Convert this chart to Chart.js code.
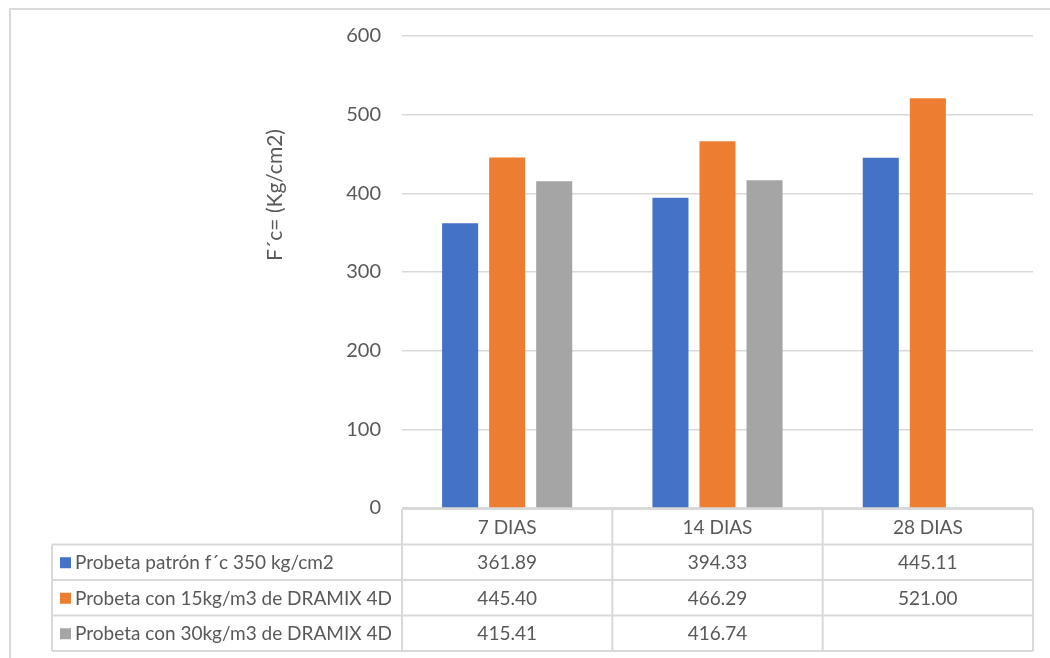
<!DOCTYPE html>
<html lang="es">
<head>
<meta charset="utf-8">
<title>Resistencia a la compresión</title>
<script src="https://cdn.jsdelivr.net/npm/chart.js@4.4.1/dist/chart.umd.min.js"></script>
<style>
  html, body { margin: 0; padding: 0; background: #fff; }
  #marco { width: 1050px; height: 658px; }
</style>
</head>
<body>
<div id="marco"><canvas id="grafico" width="1050" height="658"></canvas></div>
<script>
/* Gráfico de barras de f'c por edad de ensayo, con la tabla de datos debajo
   (como en Excel). La tabla se dibuja con un plugin usando la escala X. */

"use strict"

// Datos del gráfico
const categorias = ['7 DIAS', '14 DIAS', '28 DIAS'];
const nombresSeries = [
    'Probeta patrón f´c 350 kg/cm2',
    'Probeta con 15kg/m3 de DRAMIX 4D',
    'Probeta con 30kg/m3 de DRAMIX 4D'
];
const patron = [361.89, 394.33, 445.11];
const dramix15 = [445.40, 466.29, 521.00];
const dramix30 = [415.41, 416.74, null];
const tituloEjeY = 'F´c= (Kg/cm2)';
const ejeYMin = 0;
const ejeYMax = 600;
const ejeYPaso = 100;

const colores = ['#4472C4', '#ED7D31', '#A5A5A5'];
const fuente = 'Lato, "Open Sans", sans-serif';
const textoGris = '#595959';
const lineaGris = '#d9d9d9';

// Plugin: marco exterior, título vertical y tabla de datos
const tablaDatos = {
    id: 'tablaDatos',
    afterDraw(chart) {
        const ctx = chart.ctx;
        const area = chart.chartArea;
        const x = chart.scales.x;
        const series = [patron, dramix15, dramix30];
        const ancho = (area.right - area.left) / categorias.length;
        const arriba = area.bottom + 1;
        const altoFila = 35.5;
        const izq = 52;
        const abajo = arriba + altoFila * 4;

        ctx.save();

        // marco exterior (solo izquierda y arriba son visibles)
        ctx.strokeStyle = lineaGris;
        ctx.lineWidth = 2;
        ctx.beginPath();
        ctx.moveTo(10, chart.height);
        ctx.lineTo(10, 9);
        ctx.lineTo(chart.width, 9);
        ctx.stroke();

        // título del eje Y
        ctx.fillStyle = textoGris;
        ctx.font = '21px ' + fuente;
        ctx.textAlign = 'center';
        ctx.textBaseline = 'middle';
        ctx.translate(275, 195);
        ctx.rotate(-Math.PI / 2);
        ctx.fillText(tituloEjeY, 0, 0);
        ctx.setTransform(1, 0, 0, 1, 0, 0);

        // líneas de la tabla
        ctx.strokeStyle = lineaGris;
        ctx.lineWidth = 2;
        ctx.beginPath();
        ctx.moveTo(area.left, arriba);
        ctx.lineTo(area.right, arriba);
        for (let f = 1; f <= 4; f++) {
            ctx.moveTo(izq, arriba + altoFila * f);
            ctx.lineTo(area.right, arriba + altoFila * f);
        }
        ctx.moveTo(izq, arriba + altoFila);
        ctx.lineTo(izq, abajo);
        for (let i = 0; i <= categorias.length; i++) {
            const bx = x.getPixelForValue(0) - ancho / 2 + ancho * i;
            ctx.moveTo(bx, arriba);
            ctx.lineTo(bx, abajo);
        }
        ctx.stroke();

        // encabezado con las categorías
        ctx.fillStyle = textoGris;
        ctx.font = '19px ' + fuente;
        ctx.textAlign = 'center';
        ctx.textBaseline = 'middle';
        categorias.forEach((cat, i) => {
            ctx.fillText(cat, x.getPixelForValue(i), arriba + altoFila / 2 + 1);
        });

        // filas con la clave de color, el nombre y los valores
        series.forEach((valores, s) => {
            const cy = arriba + altoFila * (s + 1) + altoFila / 2 + 1;
            ctx.fillStyle = colores[s];
            ctx.fillRect(60, cy - 6, 11, 11);
            ctx.fillStyle = textoGris;
            ctx.textAlign = 'left';
            ctx.fillText(nombresSeries[s], 75, cy);
            ctx.textAlign = 'center';
            valores.forEach((v, i) => {
                if (v !== null) {
                    ctx.fillText(v.toFixed(2), x.getPixelForValue(i), cy);
                }
            });
        });

        ctx.restore();
    }
};

function armarGrafico() {
    const datos = [patron, dramix15, dramix30];

    new Chart(document.getElementById('grafico'), {
        type: 'bar',
        data: {
            labels: categorias,
            datasets: datos.map((valores, s) => ({
                label: nombresSeries[s],
                data: valores,
                backgroundColor: colores[s],
                borderWidth: 0,
                categoryPercentage: 0.671,
                barPercentage: 0.766
            }))
        },
        options: {
            responsive: false,
            animation: false,
            layout: {
                padding: { top: 36, right: 17, bottom: 150, left: 0 }
            },
            plugins: {
                legend: { display: false },
                tooltip: { enabled: false }
            },
            scales: {
                x: { display: false },
                y: {
                    min: ejeYMin,
                    max: ejeYMax,
                    ticks: {
                        stepSize: ejeYPaso,
                        color: textoGris,
                        padding: 21,
                        font: { family: fuente, size: 20 }
                    },
                    grid: { color: lineaGris, lineWidth: 1.5, drawTicks: false },
                    border: { display: false },
                    afterFit(scale) {
                        scale.width = 402;
                    }
                }
            }
        },
        plugins: [tablaDatos]
    });
}

armarGrafico();
</script>
</body>
</html>
